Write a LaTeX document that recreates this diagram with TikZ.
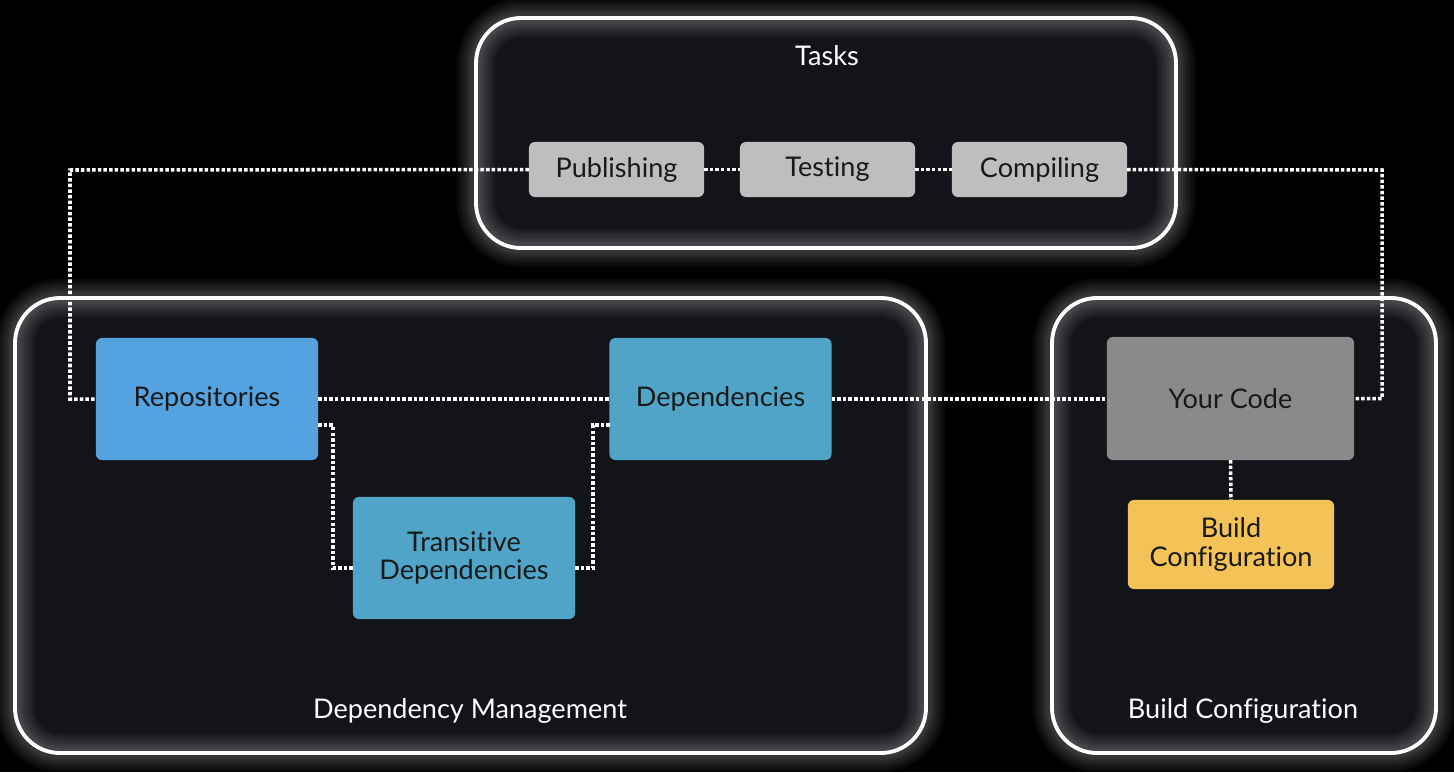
\documentclass[tikz,border=0pt]{standalone}
\usepackage{fontspec}
\setmainfont{Lato}[Ligatures=NoCommon]
\begin{document}
\begin{tikzpicture}[x=0.01cm,y=-0.01cm,
  panel/.style={fill=panelfill, rounded corners=0.45cm},
  glowline/.style={draw=white, rounded corners=0.45cm},
  box/.style={rounded corners=0.06cm, inner sep=0pt, outer sep=0pt, text=black!90,
    font=\fontsize{7.7}{8.2}\selectfont, align=center},
  taskbox/.style={box, fill=taskgray, minimum width=1.75cm, minimum height=0.55cm},
  bigbox/.style={box, minimum width=2.22cm, minimum height=1.22cm},
  title/.style={text=white, font=\fontsize{7.7}{9.2}\selectfont, inner sep=0pt},
  link/.style={draw=white, line width=1pt, dash pattern=on 1pt off 0.6pt}
]
\definecolor{panelfill}{HTML}{131419}
\definecolor{taskgray}{HTML}{BDBEBE}
\definecolor{repoblue}{HTML}{55A2E0}
\definecolor{depblue}{HTML}{4FA4C8}
\definecolor{codegray}{HTML}{8A8A8A}
\definecolor{cfgyellow}{HTML}{F4C357}
\fill[black] (0,0) rectangle (1454,772);
\useasboundingbox (0,0) rectangle (1454,772);

% panels with glow
\foreach \a/\b/\c/\d in {476/18/1176/248, 15/298/926/753, 1052/298/1436/753}{
  \fill[panel] (\a,\b) rectangle (\c,\d);
  \foreach \w in {11,9.5,8,6.5,5,4,3}{
    \draw[glowline, line width=\w pt, opacity=0.035] (\a,\b) rectangle (\c,\d);
  }
  \draw[glowline, line width=1.1pt] (\a,\b) rectangle (\c,\d);
}

% titles
\node[title] (ttasks) at (827,56) {Tasks};
\node[title] (tdep) at (470,711) {Dependency Management};
\node[title] (tbuild) at (1243,711) {Build Configuration};

% task boxes
\node[taskbox] (pub) at (616.5,169.5) {Publishing};
\node[taskbox] (test) at (827.5,169.5) {Testing};
\node[taskbox] (comp) at (1039.5,169.5) {Compiling};

% main boxes
\node[bigbox, fill=repoblue] (rep) at (207,399) {Repositories};
\node[bigbox, fill=depblue] (dep) at (720.5,399) {Dependencies};
\node[bigbox, fill=depblue] (trans) at (464,558) {Transitive\\Dependencies};
\node[box, fill=codegray, minimum width=2.47cm, minimum height=1.23cm] (code) at (1230.5,398.5) {Your Code};
\node[box, fill=cfgyellow, minimum width=2.06cm, minimum height=0.89cm] (cfg) at (1231,544.5) {Build\\Configuration};

% connector coordinates
\coordinate (c1) at (70,170);
\coordinate (c2) at (1382,170);
\coordinate (rt) at (318,425);
\coordinate (t1) at (333,425);
\coordinate (t2) at (333,568);
\coordinate (tl) at (353,568);
\coordinate (tr) at (575,568);
\coordinate (u1) at (593,568);
\coordinate (u2) at (593,425);
\coordinate (dl) at (610,425);

% connectors
\draw[link] (pub.west) -- (c1) |- (rep.west);
\draw[link] (pub.east) -- (test.west);
\draw[link] (test.east) -- (comp.west);
\draw[link] (comp.east) -- (c2) |- (code.east);
\draw[link] (rep.east) -- (rep.east -| dep.west);
\draw[link] (dep.east) -- (dep.east -| code.west);
\draw[link] (rt) -- (t1) -- (t2) -- (tl);
\draw[link] (tr) -- (u1) -- (u2) -- (dl);
\draw[link] (code.south) -- (cfg.north);
\end{tikzpicture}
\end{document}
